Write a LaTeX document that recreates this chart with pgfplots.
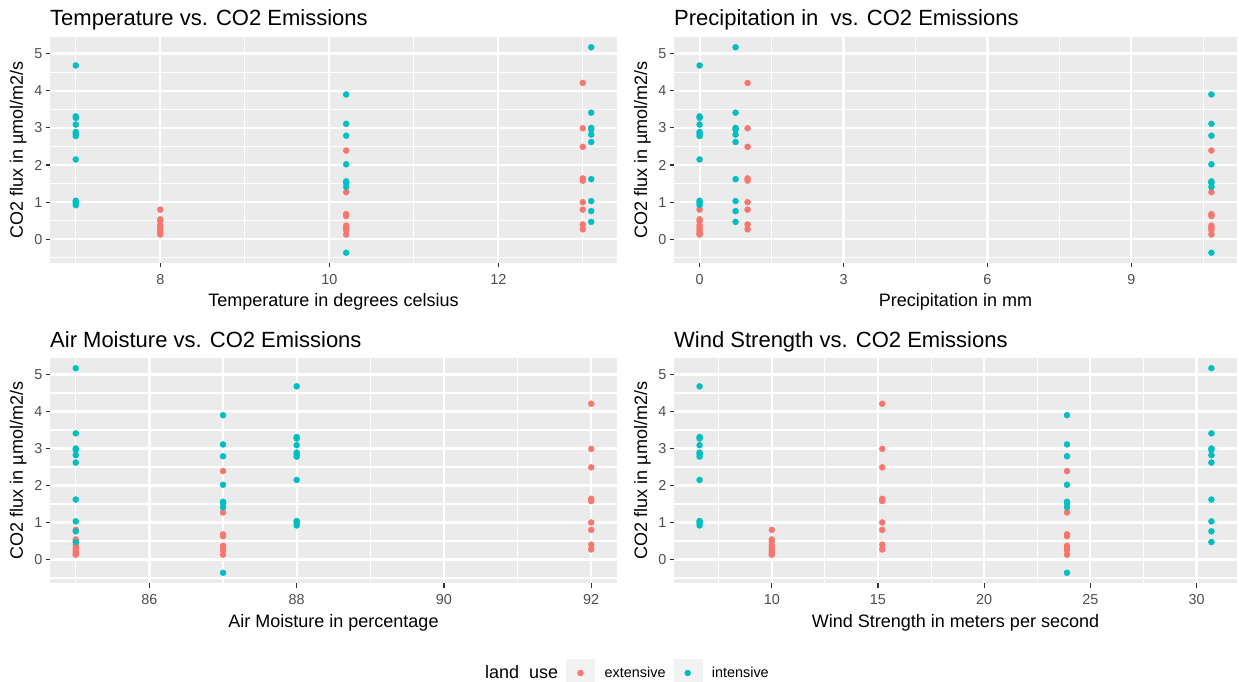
\documentclass[border=0pt]{standalone}
\usepackage{fontspec}
\setmainfont{Liberation Sans}
\usepackage{pgfplots}
\usepackage{pgfplotstable}
\pgfplotsset{compat=1.18}
\definecolor{ext}{HTML}{F8766D}
\definecolor{int}{HTML}{00BFC4}
\definecolor{panelbg}{HTML}{EBEBEB}
\definecolor{ticklab}{HTML}{4D4D4D}
\definecolor{tickcol}{HTML}{333333}
\definecolor{keybg}{HTML}{F2F2F2}

% columns: T = temperature, P = precipitation, M = air moisture, W = wind strength, F = CO2 flux
\pgfplotstableread{
T P M W F
7 0 88 6.6 4.68
7 0 88 6.6 3.31
7 0 88 6.6 3.27
7 0 88 6.6 3.09
7 0 88 6.6 2.89
7 0 88 6.6 2.84
7 0 88 6.6 2.78
7 0 88 6.6 2.15
7 0 88 6.6 1.04
7 0 88 6.6 0.99
7 0 88 6.6 0.92
10.2 10.67 87 23.9 3.90
10.2 10.67 87 23.9 3.11
10.2 10.67 87 23.9 2.79
10.2 10.67 87 23.9 2.02
10.2 10.67 87 23.9 1.56
10.2 10.67 87 23.9 1.52
10.2 10.67 87 23.9 1.41
10.2 10.67 87 23.9 -0.36
13.1 0.75 85 30.7 5.17
13.1 0.75 85 30.7 3.41
13.1 0.75 85 30.7 3.00
13.1 0.75 85 30.7 2.96
13.1 0.75 85 30.7 2.82
13.1 0.75 85 30.7 2.62
13.1 0.75 85 30.7 1.62
13.1 0.75 85 30.7 1.03
13.1 0.75 85 30.7 0.76
13.1 0.75 85 30.7 0.47
}\intensive

\pgfplotstableread{
T P M W F
8 0 85 10 0.80
8 0 85 10 0.54
8 0 85 10 0.49
8 0 85 10 0.38
8 0 85 10 0.31
8 0 85 10 0.26
8 0 85 10 0.20
8 0 85 10 0.15
8 0 85 10 0.13
10.2 10.67 87 23.9 2.39
10.2 10.67 87 23.9 1.27
10.2 10.67 87 23.9 0.68
10.2 10.67 87 23.9 0.63
10.2 10.67 87 23.9 0.37
10.2 10.67 87 23.9 0.31
10.2 10.67 87 23.9 0.25
10.2 10.67 87 23.9 0.13
13 1.0 92 15.2 4.21
13 1.0 92 15.2 2.99
13 1.0 92 15.2 2.49
13 1.0 92 15.2 1.64
13 1.0 92 15.2 1.58
13 1.0 92 15.2 1.00
13 1.0 92 15.2 0.80
13 1.0 92 15.2 0.40
13 1.0 92 15.2 0.27
}\extensive

\pgfplotsset{
  ggpanel/.style={
    scale only axis,
    height=226pt,
    axis background/.style={fill=panelbg},
    axis line style={draw=none},
    tick pos=left, tick align=outside,
    major tick length=4.5pt, minor tick length=0pt,
    every tick/.style={tickcol, line width=1.1pt},
    grid=both,
    major grid style={white, line width=2.2pt},
    minor grid style={white, line width=1.1pt},
    ymin=-0.6365, ymax=5.4465,
    ytick={0,1,2,3,4,5},
    minor ytick={-0.5,0.5,1.5,2.5,3.5,4.5},
    /pgf/number format/assume math mode=true,
    tick label style={font=\fontsize{14.4}{16}\selectfont, text=ticklab},
    yticklabel style={anchor=east, inner sep=0pt, xshift=-3pt},
    xticklabel style={anchor=north, inner sep=0pt, yshift=-7pt},
    label style={font=\fontsize{18}{20}\selectfont},
    xlabel style={at={(axis description cs:0.5,0)}, anchor=base, inner sep=0pt, yshift=-44pt},
    ylabel style={at={(axis description cs:-0.0407,0.5)}, anchor=south, inner sep=0pt},
    ylabel={CO2 flux in µmol/m2/s},
    title style={at={(axis description cs:0,1)}, anchor=base west, inner sep=0pt, yshift=5pt, font=\fontsize{22}{24}\selectfont},
  },
  extpl/.style={only marks, mark=*, mark size=3pt, color=ext},
  intpl/.style={only marks, mark=*, mark size=3pt, color=int},
}

\begin{document}
\begin{tikzpicture}
\useasboundingbox (0,0) rectangle (1239pt,-682pt);

\begin{axis}[ggpanel, at={(50pt,-37pt)}, anchor=north west, width=567pt,
  xmin=6.695, xmax=13.405, xtick={8,10,12}, minor xtick={7,9,11,13},
  title={Temperature vs. CO2 Emissions}, xlabel={Temperature in degrees celsius}]
\addplot[extpl] table[x=T, y=F] {\extensive};
\addplot[intpl] table[x=T, y=F] {\intensive};
\end{axis}

\begin{axis}[ggpanel, at={(674pt,-37pt)}, anchor=north west, width=563pt,
  xmin=-0.5335, xmax=11.2035, xtick={0,3,6,9}, minor xtick={1.5,4.5,7.5,10.5},
  title={Precipitation in \ vs. CO2 Emissions}, xlabel={Precipitation in mm}]
\addplot[extpl] table[x=P, y=F] {\extensive};
\addplot[intpl] table[x=P, y=F] {\intensive};
\end{axis}

\begin{axis}[ggpanel, at={(50pt,-358pt)}, anchor=north west, width=567pt, height=225pt,
  xmin=84.65, xmax=92.35, xtick={86,88,90,92}, minor xtick={85,87,89,91},
  title={Air Moisture vs. CO2 Emissions}, xlabel={Air Moisture in percentage},
  legend style={at={(axis description cs:0.7496,-0.4)}, anchor=west, draw=none, fill=none,
    inner sep=0pt, font=\fontsize{14.4}{16}\selectfont, legend columns=-1,
    nodes={inner sep=0pt},
    /tikz/every odd column/.append style={column sep=10pt},
    /tikz/every even column/.append style={column sep=8pt}},
  legend image code/.code={\fill[keybg] (0pt,-14pt) rectangle (28pt,14pt); \fill (14pt,0pt) circle (3pt);}]
\addlegendimage{empty legend}
\addlegendentry{\fontsize{18}{20}\selectfont land\ \ use}
\addplot[extpl] table[x=M, y=F] {\extensive};
\addlegendentry{extensive}
\addplot[intpl] table[x=M, y=F] {\intensive};
\addlegendentry{intensive}
\end{axis}

\begin{axis}[ggpanel, at={(674pt,-358pt)}, anchor=north west, width=563pt, height=225pt,
  xmin=5.395, xmax=31.905, xtick={10,15,20,25,30}, minor xtick={7.5,12.5,17.5,22.5,27.5},
  title={Wind Strength vs. CO2 Emissions}, xlabel={Wind Strength in meters per second}]
\addplot[extpl] table[x=W, y=F] {\extensive};
\addplot[intpl] table[x=W, y=F] {\intensive};
\end{axis}
\end{tikzpicture}
\end{document}
